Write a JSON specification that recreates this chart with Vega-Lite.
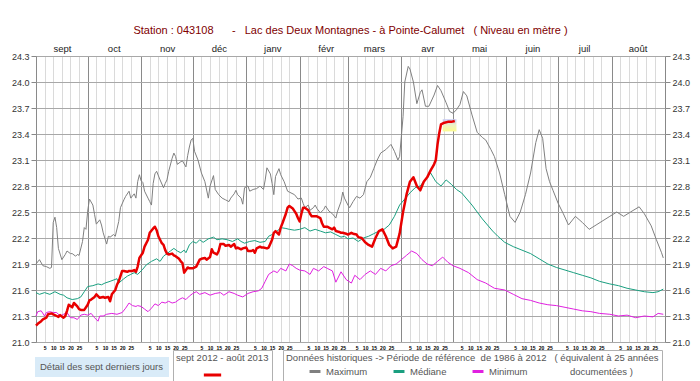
{
  "$schema": "https://vega.github.io/schema/vega-lite/v6.json",
  "width": 629,
  "height": 286,
  "autosize": {"type": "none"},
  "padding": {"left": 36, "top": 56, "right": 35, "bottom": 39},
  "background": "white",
  "title": {
    "text": "Station : 043108\u00a0\u00a0\u00a0\u00a0\u00a0\u00a0-\u00a0\u00a0\u00a0Lac des Deux Montagnes - à Pointe-Calumet\u00a0\u00a0\u00a0( Niveau en mètre )",
    "font": "Liberation Sans",
    "fontSize": 11,
    "fontWeight": "normal",
    "color": "#800000",
    "anchor": "middle",
    "offset": 7
  },
  "config": {
    "view": {"stroke": "#888888", "strokeWidth": 1},
    "axis": {"labelFont": "Liberation Sans", "title": null, "domain": false},
    "legend": {"labelFont": "Liberation Sans", "titleFont": "Liberation Sans"}
  },
  "datasets": {
    "cur": [
      {"d":"2012-09-01","v":21.19},{"d":"2012-09-02","v":21.21},{"d":"2012-09-04","v":21.24},{"d":"2012-09-05","v":21.26},
      {"d":"2012-09-07","v":21.28},{"d":"2012-09-08","v":21.32},{"d":"2012-09-10","v":21.33},{"d":"2012-09-11","v":21.32},
      {"d":"2012-09-13","v":21.30},{"d":"2012-09-14","v":21.29},{"d":"2012-09-15","v":21.31},{"d":"2012-09-17","v":21.28},
      {"d":"2012-09-18","v":21.30},{"d":"2012-09-19","v":21.36},{"d":"2012-09-20","v":21.43},{"d":"2012-09-22","v":21.40},
      {"d":"2012-09-23","v":21.45},{"d":"2012-09-25","v":21.41},{"d":"2012-09-26","v":21.38},{"d":"2012-09-27","v":21.37},
      {"d":"2012-09-29","v":21.37},{"d":"2012-10-01","v":21.43},{"d":"2012-10-02","v":21.48},{"d":"2012-10-03","v":21.49},
      {"d":"2012-10-05","v":21.52},{"d":"2012-10-06","v":21.55},{"d":"2012-10-07","v":21.53},{"d":"2012-10-08","v":21.51},
      {"d":"2012-10-10","v":21.52},{"d":"2012-10-11","v":21.51},{"d":"2012-10-13","v":21.52},{"d":"2012-10-14","v":21.47},
      {"d":"2012-10-15","v":21.55},{"d":"2012-10-17","v":21.60},{"d":"2012-10-18","v":21.66},{"d":"2012-10-19","v":21.70},
      {"d":"2012-10-21","v":21.82},{"d":"2012-10-22","v":21.82},{"d":"2012-10-24","v":21.81},{"d":"2012-10-25","v":21.82},
      {"d":"2012-10-27","v":21.82},{"d":"2012-10-28","v":21.83},{"d":"2012-10-29","v":21.81},{"d":"2012-10-30","v":21.87},
      {"d":"2012-10-31","v":21.97},{"d":"2012-11-02","v":22.03},{"d":"2012-11-03","v":22.10},{"d":"2012-11-05","v":22.18},
      {"d":"2012-11-06","v":22.26},{"d":"2012-11-08","v":22.31},{"d":"2012-11-09","v":22.33},{"d":"2012-11-10","v":22.29},
      {"d":"2012-11-11","v":22.22},{"d":"2012-11-12","v":22.18},{"d":"2012-11-13","v":22.14},{"d":"2012-11-14","v":22.12},
      {"d":"2012-11-15","v":22.06},{"d":"2012-11-16","v":22.02},{"d":"2012-11-17","v":22.01},{"d":"2012-11-19","v":22.02},
      {"d":"2012-11-20","v":22.00},{"d":"2012-11-21","v":21.99},{"d":"2012-11-23","v":21.96},{"d":"2012-11-24","v":21.93},
      {"d":"2012-11-25","v":21.91},{"d":"2012-11-26","v":21.80},{"d":"2012-11-28","v":21.86},{"d":"2012-11-29","v":21.85},
      {"d":"2012-12-01","v":21.85},{"d":"2012-12-03","v":21.87},{"d":"2012-12-05","v":21.95},{"d":"2012-12-06","v":21.96},
      {"d":"2012-12-08","v":21.97},{"d":"2012-12-09","v":21.95},{"d":"2012-12-11","v":21.98},{"d":"2012-12-12","v":22.07},
      {"d":"2012-12-13","v":22.03},{"d":"2012-12-15","v":22.01},{"d":"2012-12-16","v":22.05},{"d":"2012-12-17","v":22.13},
      {"d":"2012-12-19","v":22.13},{"d":"2012-12-20","v":22.11},{"d":"2012-12-22","v":22.12},{"d":"2012-12-23","v":22.10},
      {"d":"2012-12-25","v":22.13},{"d":"2012-12-26","v":22.08},{"d":"2012-12-27","v":22.09},{"d":"2012-12-29","v":22.07},
      {"d":"2012-12-30","v":22.08},{"d":"2013-01-01","v":22.09},{"d":"2013-01-02","v":22.05},{"d":"2013-01-04","v":22.05},
      {"d":"2013-01-05","v":22.06},{"d":"2013-01-06","v":22.03},{"d":"2013-01-07","v":22.08},{"d":"2013-01-09","v":22.10},
      {"d":"2013-01-10","v":22.09},{"d":"2013-01-11","v":22.09},{"d":"2013-01-13","v":22.08},{"d":"2013-01-14","v":22.09},
      {"d":"2013-01-16","v":22.18},{"d":"2013-01-17","v":22.26},{"d":"2013-01-18","v":22.28},{"d":"2013-01-20","v":22.24},
      {"d":"2013-01-21","v":22.32},{"d":"2013-01-22","v":22.37},{"d":"2013-01-24","v":22.48},{"d":"2013-01-25","v":22.55},
      {"d":"2013-01-26","v":22.57},{"d":"2013-01-28","v":22.54},{"d":"2013-01-29","v":22.51},{"d":"2013-01-30","v":22.48},
      {"d":"2013-01-31","v":22.43},{"d":"2013-02-01","v":22.39},{"d":"2013-02-02","v":22.48},{"d":"2013-02-03","v":22.55},
      {"d":"2013-02-04","v":22.55},{"d":"2013-02-06","v":22.52},{"d":"2013-02-07","v":22.48},{"d":"2013-02-08","v":22.45},
      {"d":"2013-02-11","v":22.45},{"d":"2013-02-13","v":22.43},{"d":"2013-02-14","v":22.37},{"d":"2013-02-15","v":22.33},
      {"d":"2013-02-17","v":22.33},{"d":"2013-02-18","v":22.32},{"d":"2013-02-20","v":22.30},{"d":"2013-02-21","v":22.32},
      {"d":"2013-02-22","v":22.28},{"d":"2013-02-24","v":22.27},{"d":"2013-02-25","v":22.26},{"d":"2013-02-26","v":22.26},
      {"d":"2013-02-28","v":22.25},{"d":"2013-03-01","v":22.24},{"d":"2013-03-03","v":22.26},{"d":"2013-03-04","v":22.25},
      {"d":"2013-03-06","v":22.24},{"d":"2013-03-07","v":22.21},{"d":"2013-03-09","v":22.20},{"d":"2013-03-11","v":22.15},
      {"d":"2013-03-13","v":22.12},{"d":"2013-03-15","v":22.10},{"d":"2013-03-17","v":22.20},{"d":"2013-03-19","v":22.28},
      {"d":"2013-03-21","v":22.30},{"d":"2013-03-23","v":22.22},{"d":"2013-03-25","v":22.12},{"d":"2013-03-27","v":22.08},
      {"d":"2013-03-29","v":22.10},{"d":"2013-03-31","v":22.25},{"d":"2013-04-02","v":22.50},{"d":"2013-04-04","v":22.70},
      {"d":"2013-04-06","v":22.85},{"d":"2013-04-08","v":22.90},{"d":"2013-04-10","v":22.80},{"d":"2013-04-12","v":22.75},
      {"d":"2013-04-14","v":22.85},{"d":"2013-04-16","v":22.90},{"d":"2013-04-18","v":22.98},{"d":"2013-04-20","v":23.05},
      {"d":"2013-04-21","v":23.10},{"d":"2013-04-22","v":23.28},{"d":"2013-04-23","v":23.41},{"d":"2013-04-24","v":23.51},
      {"d":"2013-04-26","v":23.53},{"d":"2013-04-28","v":23.54},{"d":"2013-04-30","v":23.54},{"d":"2013-05-02","v":23.55}
    ],
    "hist": [
      {"s":"Maximum","d":"2012-09-01","v":21.90},{"s":"Maximum","d":"2012-09-03","v":21.95},{"s":"Maximum","d":"2012-09-05","v":21.88},
      {"s":"Maximum","d":"2012-09-07","v":21.87},{"s":"Maximum","d":"2012-09-09","v":21.85},{"s":"Maximum","d":"2012-09-10","v":21.86},
      {"s":"Maximum","d":"2012-09-11","v":22.38},{"s":"Maximum","d":"2012-09-12","v":22.44},{"s":"Maximum","d":"2012-09-13","v":22.32},
      {"s":"Maximum","d":"2012-09-14","v":22.08},{"s":"Maximum","d":"2012-09-16","v":21.95},{"s":"Maximum","d":"2012-09-18","v":22.01},
      {"s":"Maximum","d":"2012-09-19","v":22.05},{"s":"Maximum","d":"2012-09-21","v":22.02},{"s":"Maximum","d":"2012-09-22","v":22.02},
      {"s":"Maximum","d":"2012-09-24","v":21.99},{"s":"Maximum","d":"2012-09-25","v":22.01},{"s":"Maximum","d":"2012-09-26","v":22.00},
      {"s":"Maximum","d":"2012-09-28","v":22.16},{"s":"Maximum","d":"2012-09-29","v":22.32},{"s":"Maximum","d":"2012-09-30","v":22.30},
      {"s":"Maximum","d":"2012-10-01","v":22.51},{"s":"Maximum","d":"2012-10-02","v":22.65},{"s":"Maximum","d":"2012-10-04","v":22.58},
      {"s":"Maximum","d":"2012-10-05","v":22.47},{"s":"Maximum","d":"2012-10-06","v":22.36},{"s":"Maximum","d":"2012-10-08","v":22.41},
      {"s":"Maximum","d":"2012-10-09","v":22.35},{"s":"Maximum","d":"2012-10-10","v":22.26},{"s":"Maximum","d":"2012-10-12","v":22.13},
      {"s":"Maximum","d":"2012-10-13","v":22.22},{"s":"Maximum","d":"2012-10-14","v":22.21},{"s":"Maximum","d":"2012-10-16","v":22.24},
      {"s":"Maximum","d":"2012-10-17","v":22.22},{"s":"Maximum","d":"2012-10-19","v":22.39},{"s":"Maximum","d":"2012-10-20","v":22.55},
      {"s":"Maximum","d":"2012-10-22","v":22.64},{"s":"Maximum","d":"2012-10-23","v":22.68},{"s":"Maximum","d":"2012-10-25","v":22.74},
      {"s":"Maximum","d":"2012-10-26","v":22.66},{"s":"Maximum","d":"2012-10-28","v":22.71},{"s":"Maximum","d":"2012-10-29","v":22.66},
      {"s":"Maximum","d":"2012-10-30","v":22.85},{"s":"Maximum","d":"2012-10-31","v":22.93},{"s":"Maximum","d":"2012-11-01","v":22.86},
      {"s":"Maximum","d":"2012-11-02","v":22.84},{"s":"Maximum","d":"2012-11-03","v":22.74},{"s":"Maximum","d":"2012-11-05","v":22.66},
      {"s":"Maximum","d":"2012-11-06","v":22.62},{"s":"Maximum","d":"2012-11-07","v":22.58},{"s":"Maximum","d":"2012-11-08","v":22.83},
      {"s":"Maximum","d":"2012-11-09","v":22.94},{"s":"Maximum","d":"2012-11-10","v":22.97},{"s":"Maximum","d":"2012-11-12","v":22.87},
      {"s":"Maximum","d":"2012-11-14","v":22.78},{"s":"Maximum","d":"2012-11-15","v":22.83},{"s":"Maximum","d":"2012-11-16","v":22.87},
      {"s":"Maximum","d":"2012-11-17","v":22.97},{"s":"Maximum","d":"2012-11-19","v":23.12},{"s":"Maximum","d":"2012-11-20","v":23.18},
      {"s":"Maximum","d":"2012-11-21","v":23.14},{"s":"Maximum","d":"2012-11-22","v":23.05},{"s":"Maximum","d":"2012-11-24","v":23.08},
      {"s":"Maximum","d":"2012-11-25","v":23.09},{"s":"Maximum","d":"2012-11-27","v":23.02},{"s":"Maximum","d":"2012-11-28","v":23.15},
      {"s":"Maximum","d":"2012-11-29","v":23.25},{"s":"Maximum","d":"2012-11-30","v":23.33},{"s":"Maximum","d":"2012-12-01","v":23.35},
      {"s":"Maximum","d":"2012-12-02","v":23.20},{"s":"Maximum","d":"2012-12-04","v":23.10},{"s":"Maximum","d":"2012-12-06","v":22.95},
      {"s":"Maximum","d":"2012-12-08","v":22.85},{"s":"Maximum","d":"2012-12-10","v":22.66},{"s":"Maximum","d":"2012-12-11","v":22.80},
      {"s":"Maximum","d":"2012-12-13","v":22.92},{"s":"Maximum","d":"2012-12-14","v":22.76},{"s":"Maximum","d":"2012-12-16","v":22.70},
      {"s":"Maximum","d":"2012-12-18","v":22.66},{"s":"Maximum","d":"2012-12-20","v":22.64},{"s":"Maximum","d":"2012-12-22","v":22.62},
      {"s":"Maximum","d":"2012-12-23","v":22.66},{"s":"Maximum","d":"2012-12-25","v":22.71},{"s":"Maximum","d":"2012-12-26","v":22.75},
      {"s":"Maximum","d":"2012-12-27","v":22.70},{"s":"Maximum","d":"2012-12-29","v":22.66},{"s":"Maximum","d":"2012-12-30","v":22.59},
      {"s":"Maximum","d":"2012-12-31","v":22.78},{"s":"Maximum","d":"2013-01-02","v":22.80},{"s":"Maximum","d":"2013-01-03","v":22.74},
      {"s":"Maximum","d":"2013-01-05","v":22.76},{"s":"Maximum","d":"2013-01-07","v":22.77},{"s":"Maximum","d":"2013-01-09","v":22.80},
      {"s":"Maximum","d":"2013-01-11","v":22.76},{"s":"Maximum","d":"2013-01-12","v":22.87},{"s":"Maximum","d":"2013-01-13","v":23.01},
      {"s":"Maximum","d":"2013-01-15","v":22.94},{"s":"Maximum","d":"2013-01-16","v":22.83},{"s":"Maximum","d":"2013-01-17","v":22.70},
      {"s":"Maximum","d":"2013-01-18","v":22.91},{"s":"Maximum","d":"2013-01-20","v":23.00},{"s":"Maximum","d":"2013-01-21","v":22.93},
      {"s":"Maximum","d":"2013-01-23","v":22.85},{"s":"Maximum","d":"2013-01-25","v":22.74},{"s":"Maximum","d":"2013-01-26","v":22.73},
      {"s":"Maximum","d":"2013-01-29","v":22.70},{"s":"Maximum","d":"2013-01-31","v":22.65},{"s":"Maximum","d":"2013-02-02","v":22.66},
      {"s":"Maximum","d":"2013-02-03","v":22.60},{"s":"Maximum","d":"2013-02-04","v":22.55},{"s":"Maximum","d":"2013-02-06","v":22.58},
      {"s":"Maximum","d":"2013-02-07","v":22.52},{"s":"Maximum","d":"2013-02-09","v":22.55},{"s":"Maximum","d":"2013-02-10","v":22.58},
      {"s":"Maximum","d":"2013-02-11","v":22.54},{"s":"Maximum","d":"2013-02-13","v":22.49},{"s":"Maximum","d":"2013-02-15","v":22.53},
      {"s":"Maximum","d":"2013-02-16","v":22.57},{"s":"Maximum","d":"2013-02-18","v":22.51},{"s":"Maximum","d":"2013-02-20","v":22.48},
      {"s":"Maximum","d":"2013-02-22","v":22.43},{"s":"Maximum","d":"2013-02-23","v":22.51},{"s":"Maximum","d":"2013-02-25","v":22.62},
      {"s":"Maximum","d":"2013-02-26","v":22.73},{"s":"Maximum","d":"2013-02-27","v":22.66},{"s":"Maximum","d":"2013-03-01","v":22.58},
      {"s":"Maximum","d":"2013-03-02","v":22.55},{"s":"Maximum","d":"2013-03-04","v":22.62},{"s":"Maximum","d":"2013-03-06","v":22.68},
      {"s":"Maximum","d":"2013-03-08","v":22.66},{"s":"Maximum","d":"2013-03-10","v":22.70},{"s":"Maximum","d":"2013-03-12","v":22.85},
      {"s":"Maximum","d":"2013-03-14","v":22.90},{"s":"Maximum","d":"2013-03-16","v":23.00},{"s":"Maximum","d":"2013-03-18","v":23.10},
      {"s":"Maximum","d":"2013-03-20","v":23.18},{"s":"Maximum","d":"2013-03-23","v":23.22},{"s":"Maximum","d":"2013-03-26","v":23.28},
      {"s":"Maximum","d":"2013-03-28","v":23.20},{"s":"Maximum","d":"2013-03-30","v":23.10},{"s":"Maximum","d":"2013-03-31","v":23.14},
      {"s":"Maximum","d":"2013-04-02","v":23.60},{"s":"Maximum","d":"2013-04-03","v":24.00},{"s":"Maximum","d":"2013-04-05","v":24.18},
      {"s":"Maximum","d":"2013-04-06","v":24.15},{"s":"Maximum","d":"2013-04-08","v":24.00},{"s":"Maximum","d":"2013-04-10","v":23.75},
      {"s":"Maximum","d":"2013-04-12","v":23.88},{"s":"Maximum","d":"2013-04-13","v":23.91},{"s":"Maximum","d":"2013-04-15","v":23.72},
      {"s":"Maximum","d":"2013-04-17","v":23.72},{"s":"Maximum","d":"2013-04-20","v":23.85},{"s":"Maximum","d":"2013-04-22","v":23.96},
      {"s":"Maximum","d":"2013-04-24","v":23.90},{"s":"Maximum","d":"2013-04-27","v":23.76},{"s":"Maximum","d":"2013-04-29","v":23.66},
      {"s":"Maximum","d":"2013-05-01","v":23.64},{"s":"Maximum","d":"2013-05-03","v":23.68},{"s":"Maximum","d":"2013-05-05","v":23.74},
      {"s":"Maximum","d":"2013-05-07","v":23.89},{"s":"Maximum","d":"2013-05-09","v":23.84},{"s":"Maximum","d":"2013-05-12","v":23.62},
      {"s":"Maximum","d":"2013-05-15","v":23.42},{"s":"Maximum","d":"2013-05-18","v":23.36},{"s":"Maximum","d":"2013-05-20","v":23.33},
      {"s":"Maximum","d":"2013-05-23","v":23.22},{"s":"Maximum","d":"2013-05-25","v":23.14},{"s":"Maximum","d":"2013-05-28","v":22.95},
      {"s":"Maximum","d":"2013-05-31","v":22.70},{"s":"Maximum","d":"2013-06-03","v":22.45},{"s":"Maximum","d":"2013-06-06","v":22.38},
      {"s":"Maximum","d":"2013-06-09","v":22.50},{"s":"Maximum","d":"2013-06-12","v":22.70},{"s":"Maximum","d":"2013-06-15","v":22.95},
      {"s":"Maximum","d":"2013-06-18","v":23.30},{"s":"Maximum","d":"2013-06-20","v":23.45},{"s":"Maximum","d":"2013-06-22","v":23.35},
      {"s":"Maximum","d":"2013-06-24","v":23.00},{"s":"Maximum","d":"2013-06-26","v":22.85},{"s":"Maximum","d":"2013-06-28","v":22.75},
      {"s":"Maximum","d":"2013-07-01","v":22.60},{"s":"Maximum","d":"2013-07-04","v":22.48},{"s":"Maximum","d":"2013-07-07","v":22.35},
      {"s":"Maximum","d":"2013-07-11","v":22.45},{"s":"Maximum","d":"2013-07-15","v":22.38},{"s":"Maximum","d":"2013-07-19","v":22.30},
      {"s":"Maximum","d":"2013-07-23","v":22.35},{"s":"Maximum","d":"2013-07-27","v":22.40},{"s":"Maximum","d":"2013-07-31","v":22.45},
      {"s":"Maximum","d":"2013-08-04","v":22.50},{"s":"Maximum","d":"2013-08-08","v":22.45},{"s":"Maximum","d":"2013-08-12","v":22.50},
      {"s":"Maximum","d":"2013-08-17","v":22.56},{"s":"Maximum","d":"2013-08-20","v":22.48},{"s":"Maximum","d":"2013-08-24","v":22.34},
      {"s":"Maximum","d":"2013-08-27","v":22.18},{"s":"Maximum","d":"2013-08-30","v":22.03},{"s":"Maximum","d":"2013-08-31","v":21.97},

      {"s":"Médiane","d":"2012-09-01","v":21.57},{"s":"Médiane","d":"2012-09-03","v":21.55},{"s":"Médiane","d":"2012-09-06","v":21.57},
      {"s":"Médiane","d":"2012-09-09","v":21.55},{"s":"Médiane","d":"2012-09-12","v":21.58},{"s":"Médiane","d":"2012-09-15","v":21.55},
      {"s":"Médiane","d":"2012-09-17","v":21.54},{"s":"Médiane","d":"2012-09-19","v":21.51},{"s":"Médiane","d":"2012-09-22","v":21.49},
      {"s":"Médiane","d":"2012-09-25","v":21.50},{"s":"Médiane","d":"2012-09-27","v":21.52},{"s":"Médiane","d":"2012-09-29","v":21.58},
      {"s":"Médiane","d":"2012-10-01","v":21.64},{"s":"Médiane","d":"2012-10-04","v":21.65},{"s":"Médiane","d":"2012-10-07","v":21.67},
      {"s":"Médiane","d":"2012-10-09","v":21.66},{"s":"Médiane","d":"2012-10-11","v":21.68},{"s":"Médiane","d":"2012-10-14","v":21.70},
      {"s":"Médiane","d":"2012-10-18","v":21.73},{"s":"Médiane","d":"2012-10-19","v":21.68},{"s":"Médiane","d":"2012-10-22","v":21.73},
      {"s":"Médiane","d":"2012-10-24","v":21.76},{"s":"Médiane","d":"2012-10-26","v":21.78},{"s":"Médiane","d":"2012-10-28","v":21.80},
      {"s":"Médiane","d":"2012-10-30","v":21.78},{"s":"Médiane","d":"2012-11-01","v":21.82},{"s":"Médiane","d":"2012-11-02","v":21.84},
      {"s":"Médiane","d":"2012-11-04","v":21.89},{"s":"Médiane","d":"2012-11-07","v":21.93},{"s":"Médiane","d":"2012-11-10","v":21.96},
      {"s":"Médiane","d":"2012-11-12","v":21.93},{"s":"Médiane","d":"2012-11-14","v":21.99},{"s":"Médiane","d":"2012-11-16","v":22.02},
      {"s":"Médiane","d":"2012-11-18","v":22.05},{"s":"Médiane","d":"2012-11-20","v":22.08},{"s":"Médiane","d":"2012-11-22","v":22.05},
      {"s":"Médiane","d":"2012-11-24","v":22.03},{"s":"Médiane","d":"2012-11-26","v":22.06},{"s":"Médiane","d":"2012-11-27","v":22.03},
      {"s":"Médiane","d":"2012-11-29","v":22.12},{"s":"Médiane","d":"2012-12-01","v":22.16},{"s":"Médiane","d":"2012-12-03","v":22.14},
      {"s":"Médiane","d":"2012-12-05","v":22.18},{"s":"Médiane","d":"2012-12-07","v":22.15},{"s":"Médiane","d":"2012-12-10","v":22.19},
      {"s":"Médiane","d":"2012-12-13","v":22.21},{"s":"Médiane","d":"2012-12-15","v":22.18},{"s":"Médiane","d":"2012-12-18","v":22.19},
      {"s":"Médiane","d":"2012-12-21","v":22.18},{"s":"Médiane","d":"2012-12-24","v":22.16},{"s":"Médiane","d":"2012-12-27","v":22.19},
      {"s":"Médiane","d":"2012-12-29","v":22.16},{"s":"Médiane","d":"2012-12-31","v":22.14},{"s":"Médiane","d":"2013-01-03","v":22.16},
      {"s":"Médiane","d":"2013-01-06","v":22.17},{"s":"Médiane","d":"2013-01-09","v":22.15},{"s":"Médiane","d":"2013-01-12","v":22.16},
      {"s":"Médiane","d":"2013-01-14","v":22.22},{"s":"Médiane","d":"2013-01-16","v":22.24},{"s":"Médiane","d":"2013-01-19","v":22.28},
      {"s":"Médiane","d":"2013-01-21","v":22.32},{"s":"Médiane","d":"2013-01-24","v":22.31},{"s":"Médiane","d":"2013-01-26","v":22.30},
      {"s":"Médiane","d":"2013-01-29","v":22.29},{"s":"Médiane","d":"2013-02-01","v":22.30},{"s":"Médiane","d":"2013-02-04","v":22.32},
      {"s":"Médiane","d":"2013-02-07","v":22.28},{"s":"Médiane","d":"2013-02-10","v":22.30},{"s":"Médiane","d":"2013-02-13","v":22.28},
      {"s":"Médiane","d":"2013-02-16","v":22.26},{"s":"Médiane","d":"2013-02-19","v":22.27},{"s":"Médiane","d":"2013-02-22","v":22.24},
      {"s":"Médiane","d":"2013-02-25","v":22.21},{"s":"Médiane","d":"2013-02-27","v":22.22},{"s":"Médiane","d":"2013-03-01","v":22.19},
      {"s":"Médiane","d":"2013-03-04","v":22.20},{"s":"Médiane","d":"2013-03-07","v":22.16},{"s":"Médiane","d":"2013-03-10","v":22.20},
      {"s":"Médiane","d":"2013-03-13","v":22.22},{"s":"Médiane","d":"2013-03-16","v":22.25},{"s":"Médiane","d":"2013-03-19","v":22.28},
      {"s":"Médiane","d":"2013-03-22","v":22.30},{"s":"Médiane","d":"2013-03-25","v":22.35},{"s":"Médiane","d":"2013-03-28","v":22.45},
      {"s":"Médiane","d":"2013-03-31","v":22.58},{"s":"Médiane","d":"2013-04-03","v":22.65},{"s":"Médiane","d":"2013-04-06","v":22.72},
      {"s":"Médiane","d":"2013-04-09","v":22.78},{"s":"Médiane","d":"2013-04-12","v":22.80},{"s":"Médiane","d":"2013-04-15","v":22.88},
      {"s":"Médiane","d":"2013-04-18","v":22.95},{"s":"Médiane","d":"2013-04-21","v":22.85},{"s":"Médiane","d":"2013-04-24","v":22.80},
      {"s":"Médiane","d":"2013-04-27","v":22.87},{"s":"Médiane","d":"2013-04-30","v":22.82},{"s":"Médiane","d":"2013-05-03","v":22.76},
      {"s":"Médiane","d":"2013-05-06","v":22.72},{"s":"Médiane","d":"2013-05-09","v":22.65},{"s":"Médiane","d":"2013-05-12","v":22.58},
      {"s":"Médiane","d":"2013-05-15","v":22.50},{"s":"Médiane","d":"2013-05-18","v":22.42},{"s":"Médiane","d":"2013-05-21","v":22.35},
      {"s":"Médiane","d":"2013-05-24","v":22.28},{"s":"Médiane","d":"2013-05-27","v":22.22},{"s":"Médiane","d":"2013-05-31","v":22.15},
      {"s":"Médiane","d":"2013-06-05","v":22.10},{"s":"Médiane","d":"2013-06-10","v":22.06},{"s":"Médiane","d":"2013-06-15","v":22.02},
      {"s":"Médiane","d":"2013-06-20","v":21.96},{"s":"Médiane","d":"2013-06-25","v":21.90},{"s":"Médiane","d":"2013-06-30","v":21.86},
      {"s":"Médiane","d":"2013-07-05","v":21.83},{"s":"Médiane","d":"2013-07-10","v":21.80},{"s":"Médiane","d":"2013-07-15","v":21.77},
      {"s":"Médiane","d":"2013-07-20","v":21.74},{"s":"Médiane","d":"2013-07-25","v":21.70},{"s":"Médiane","d":"2013-07-31","v":21.67},
      {"s":"Médiane","d":"2013-08-05","v":21.65},{"s":"Médiane","d":"2013-08-10","v":21.62},{"s":"Médiane","d":"2013-08-15","v":21.60},
      {"s":"Médiane","d":"2013-08-20","v":21.58},{"s":"Médiane","d":"2013-08-25","v":21.57},{"s":"Médiane","d":"2013-08-28","v":21.58},
      {"s":"Médiane","d":"2013-08-31","v":21.61},

      {"s":"Minimum","d":"2012-09-01","v":21.30},{"s":"Minimum","d":"2012-09-02","v":21.35},{"s":"Minimum","d":"2012-09-04","v":21.36},
      {"s":"Minimum","d":"2012-09-06","v":21.30},{"s":"Minimum","d":"2012-09-07","v":21.34},{"s":"Minimum","d":"2012-09-09","v":21.35},
      {"s":"Minimum","d":"2012-09-11","v":21.34},{"s":"Minimum","d":"2012-09-13","v":21.34},{"s":"Minimum","d":"2012-09-15","v":21.30},
      {"s":"Minimum","d":"2012-09-17","v":21.32},{"s":"Minimum","d":"2012-09-19","v":21.34},{"s":"Minimum","d":"2012-09-21","v":21.28},
      {"s":"Minimum","d":"2012-09-23","v":21.28},{"s":"Minimum","d":"2012-09-25","v":21.26},{"s":"Minimum","d":"2012-09-27","v":21.31},
      {"s":"Minimum","d":"2012-09-29","v":21.32},{"s":"Minimum","d":"2012-10-01","v":21.31},{"s":"Minimum","d":"2012-10-03","v":21.33},
      {"s":"Minimum","d":"2012-10-05","v":21.28},{"s":"Minimum","d":"2012-10-07","v":21.24},{"s":"Minimum","d":"2012-10-08","v":21.30},
      {"s":"Minimum","d":"2012-10-10","v":21.30},{"s":"Minimum","d":"2012-10-12","v":21.32},{"s":"Minimum","d":"2012-10-15","v":21.33},
      {"s":"Minimum","d":"2012-10-18","v":21.32},{"s":"Minimum","d":"2012-10-21","v":21.34},{"s":"Minimum","d":"2012-10-23","v":21.39},
      {"s":"Minimum","d":"2012-10-25","v":21.45},{"s":"Minimum","d":"2012-10-27","v":21.42},{"s":"Minimum","d":"2012-10-29","v":21.41},
      {"s":"Minimum","d":"2012-10-30","v":21.42},{"s":"Minimum","d":"2012-11-01","v":21.41},{"s":"Minimum","d":"2012-11-03","v":21.38},
      {"s":"Minimum","d":"2012-11-05","v":21.35},{"s":"Minimum","d":"2012-11-07","v":21.39},{"s":"Minimum","d":"2012-11-09","v":21.44},
      {"s":"Minimum","d":"2012-11-11","v":21.42},{"s":"Minimum","d":"2012-11-13","v":21.46},{"s":"Minimum","d":"2012-11-15","v":21.45},
      {"s":"Minimum","d":"2012-11-17","v":21.47},{"s":"Minimum","d":"2012-11-19","v":21.45},{"s":"Minimum","d":"2012-11-21","v":21.46},
      {"s":"Minimum","d":"2012-11-23","v":21.49},{"s":"Minimum","d":"2012-11-25","v":21.51},{"s":"Minimum","d":"2012-11-27","v":21.49},
      {"s":"Minimum","d":"2012-11-29","v":21.53},{"s":"Minimum","d":"2012-12-01","v":21.56},{"s":"Minimum","d":"2012-12-03","v":21.58},
      {"s":"Minimum","d":"2012-12-05","v":21.55},{"s":"Minimum","d":"2012-12-08","v":21.57},{"s":"Minimum","d":"2012-12-11","v":21.54},
      {"s":"Minimum","d":"2012-12-14","v":21.56},{"s":"Minimum","d":"2012-12-17","v":21.57},{"s":"Minimum","d":"2012-12-19","v":21.54},
      {"s":"Minimum","d":"2012-12-22","v":21.58},{"s":"Minimum","d":"2012-12-25","v":21.56},{"s":"Minimum","d":"2012-12-27","v":21.54},
      {"s":"Minimum","d":"2012-12-30","v":21.52},{"s":"Minimum","d":"2013-01-02","v":21.56},{"s":"Minimum","d":"2013-01-05","v":21.58},
      {"s":"Minimum","d":"2013-01-08","v":21.59},{"s":"Minimum","d":"2013-01-10","v":21.62},{"s":"Minimum","d":"2013-01-12","v":21.70},
      {"s":"Minimum","d":"2013-01-14","v":21.78},{"s":"Minimum","d":"2013-01-17","v":21.82},{"s":"Minimum","d":"2013-01-19","v":21.80},
      {"s":"Minimum","d":"2013-01-21","v":21.85},{"s":"Minimum","d":"2013-01-24","v":21.82},{"s":"Minimum","d":"2013-01-26","v":21.90},
      {"s":"Minimum","d":"2013-01-28","v":21.88},{"s":"Minimum","d":"2013-01-30","v":21.85},{"s":"Minimum","d":"2013-02-01","v":21.83},
      {"s":"Minimum","d":"2013-02-04","v":21.82},{"s":"Minimum","d":"2013-02-07","v":21.78},{"s":"Minimum","d":"2013-02-09","v":21.85},
      {"s":"Minimum","d":"2013-02-12","v":21.82},{"s":"Minimum","d":"2013-02-15","v":21.87},{"s":"Minimum","d":"2013-02-17","v":21.85},
      {"s":"Minimum","d":"2013-02-20","v":21.82},{"s":"Minimum","d":"2013-02-22","v":21.69},{"s":"Minimum","d":"2013-02-25","v":21.81},
      {"s":"Minimum","d":"2013-02-28","v":21.72},{"s":"Minimum","d":"2013-03-03","v":21.68},{"s":"Minimum","d":"2013-03-05","v":21.77},
      {"s":"Minimum","d":"2013-03-08","v":21.72},{"s":"Minimum","d":"2013-03-11","v":21.78},{"s":"Minimum","d":"2013-03-14","v":21.82},
      {"s":"Minimum","d":"2013-03-17","v":21.78},{"s":"Minimum","d":"2013-03-20","v":21.85},{"s":"Minimum","d":"2013-03-23","v":21.82},
      {"s":"Minimum","d":"2013-03-26","v":21.88},{"s":"Minimum","d":"2013-03-29","v":21.90},{"s":"Minimum","d":"2013-04-01","v":21.95},
      {"s":"Minimum","d":"2013-04-04","v":22.00},{"s":"Minimum","d":"2013-04-07","v":22.05},{"s":"Minimum","d":"2013-04-10","v":22.02},
      {"s":"Minimum","d":"2013-04-13","v":21.95},{"s":"Minimum","d":"2013-04-16","v":21.90},{"s":"Minimum","d":"2013-04-19","v":21.88},
      {"s":"Minimum","d":"2013-04-22","v":21.93},{"s":"Minimum","d":"2013-04-25","v":21.98},{"s":"Minimum","d":"2013-04-28","v":21.92},
      {"s":"Minimum","d":"2013-05-01","v":21.88},{"s":"Minimum","d":"2013-05-05","v":21.85},{"s":"Minimum","d":"2013-05-10","v":21.80},
      {"s":"Minimum","d":"2013-05-15","v":21.72},{"s":"Minimum","d":"2013-05-20","v":21.68},{"s":"Minimum","d":"2013-05-25","v":21.62},
      {"s":"Minimum","d":"2013-05-31","v":21.60},{"s":"Minimum","d":"2013-06-05","v":21.55},{"s":"Minimum","d":"2013-06-10","v":21.50},
      {"s":"Minimum","d":"2013-06-15","v":21.48},{"s":"Minimum","d":"2013-06-20","v":21.45},{"s":"Minimum","d":"2013-06-25","v":21.43},
      {"s":"Minimum","d":"2013-06-30","v":21.42},{"s":"Minimum","d":"2013-07-05","v":21.40},{"s":"Minimum","d":"2013-07-10","v":21.38},
      {"s":"Minimum","d":"2013-07-15","v":21.36},{"s":"Minimum","d":"2013-07-20","v":21.35},{"s":"Minimum","d":"2013-07-25","v":21.33},
      {"s":"Minimum","d":"2013-07-31","v":21.32},{"s":"Minimum","d":"2013-08-05","v":21.30},{"s":"Minimum","d":"2013-08-10","v":21.31},
      {"s":"Minimum","d":"2013-08-15","v":21.28},{"s":"Minimum","d":"2013-08-20","v":21.30},{"s":"Minimum","d":"2013-08-25","v":21.29},
      {"s":"Minimum","d":"2013-08-28","v":21.33},{"s":"Minimum","d":"2013-08-31","v":21.32}
    ],
    "box": [{"d":"2013-04-25","d2":"2013-05-03","v":23.43,"v2":23.57}]
  },
  "layer": [
    {
      "data": {"name": "hist"},
      "mark": {"type": "line", "strokeWidth": 1, "interpolate": "linear"},
      "encoding": {
        "x": {
          "field": "d", "type": "temporal",
          "scale": {"type": "utc", "domain": [{"year":2012,"month":9,"date":1,"utc":true},{"year":2013,"month":9,"date":1,"utc":true}]},
          "axis": {
            "orient": "bottom",
            "values": [
              {"year":2012,"month":9,"date":6,"utc":true},{"year":2012,"month":9,"date":11,"utc":true},{"year":2012,"month":9,"date":16,"utc":true},{"year":2012,"month":9,"date":21,"utc":true},{"year":2012,"month":9,"date":26,"utc":true},
              {"year":2012,"month":10,"date":6,"utc":true},{"year":2012,"month":10,"date":11,"utc":true},{"year":2012,"month":10,"date":16,"utc":true},{"year":2012,"month":10,"date":21,"utc":true},{"year":2012,"month":10,"date":26,"utc":true},
              {"year":2012,"month":11,"date":6,"utc":true},{"year":2012,"month":11,"date":11,"utc":true},{"year":2012,"month":11,"date":16,"utc":true},{"year":2012,"month":11,"date":21,"utc":true},{"year":2012,"month":11,"date":26,"utc":true},
              {"year":2012,"month":12,"date":6,"utc":true},{"year":2012,"month":12,"date":11,"utc":true},{"year":2012,"month":12,"date":16,"utc":true},{"year":2012,"month":12,"date":21,"utc":true},{"year":2012,"month":12,"date":26,"utc":true},
              {"year":2013,"month":1,"date":6,"utc":true},{"year":2013,"month":1,"date":11,"utc":true},{"year":2013,"month":1,"date":16,"utc":true},{"year":2013,"month":1,"date":21,"utc":true},{"year":2013,"month":1,"date":26,"utc":true},
              {"year":2013,"month":2,"date":6,"utc":true},{"year":2013,"month":2,"date":11,"utc":true},{"year":2013,"month":2,"date":16,"utc":true},{"year":2013,"month":2,"date":21,"utc":true},{"year":2013,"month":2,"date":26,"utc":true},
              {"year":2013,"month":3,"date":6,"utc":true},{"year":2013,"month":3,"date":11,"utc":true},{"year":2013,"month":3,"date":16,"utc":true},{"year":2013,"month":3,"date":21,"utc":true},{"year":2013,"month":3,"date":26,"utc":true},
              {"year":2013,"month":4,"date":6,"utc":true},{"year":2013,"month":4,"date":11,"utc":true},{"year":2013,"month":4,"date":16,"utc":true},{"year":2013,"month":4,"date":21,"utc":true},{"year":2013,"month":4,"date":26,"utc":true},
              {"year":2013,"month":5,"date":6,"utc":true},{"year":2013,"month":5,"date":11,"utc":true},{"year":2013,"month":5,"date":16,"utc":true},{"year":2013,"month":5,"date":21,"utc":true},{"year":2013,"month":5,"date":26,"utc":true},
              {"year":2013,"month":6,"date":6,"utc":true},{"year":2013,"month":6,"date":11,"utc":true},{"year":2013,"month":6,"date":16,"utc":true},{"year":2013,"month":6,"date":21,"utc":true},{"year":2013,"month":6,"date":26,"utc":true},
              {"year":2013,"month":7,"date":6,"utc":true},{"year":2013,"month":7,"date":11,"utc":true},{"year":2013,"month":7,"date":16,"utc":true},{"year":2013,"month":7,"date":21,"utc":true},{"year":2013,"month":7,"date":26,"utc":true},
              {"year":2013,"month":8,"date":6,"utc":true},{"year":2013,"month":8,"date":11,"utc":true},{"year":2013,"month":8,"date":16,"utc":true},{"year":2013,"month":8,"date":21,"utc":true},{"year":2013,"month":8,"date":26,"utc":true}
            ],
            "labelExpr": "'' + (utcdate(datum.value) - 1)",
            "grid": true, "gridColor": "#dadada", "gridWidth": 1,
            "ticks": false, "labelFontSize": 5, "labelFont": "Liberation Sans", "labelFontWeight": "bold",
            "labelColor": "#000000", "labelPadding": 3, "labelFlush": false, "labelOverlap": false, "labelBound": false
          }
        },
        "y": {
          "field": "v", "type": "quantitative",
          "scale": {"domain": [21.0, 24.3], "nice": false, "zero": false},
          "axis": {
            "orient": "left",
            "values": [21.0, 21.3, 21.6, 21.9, 22.2, 22.5, 22.8, 23.1, 23.4, 23.7, 24.0, 24.3],
            "format": ".1f", "grid": true, "gridColor": "#a8a8a8", "gridWidth": 1,
            "tickSize": 5, "tickColor": "#888888", "labelFontSize": 9, "labelColor": "#333333", "labelPadding": 2
          }
        },
        "color": {
          "field": "s", "type": "nominal",
          "scale": {"domain": ["Maximum", "Médiane", "Minimum", "documentées )"], "range": ["#808080", "#1a9f80", "#e020e0", "transparent"]},
          "legend": {
            "title": "Données historiques -> Période de référence\u00a0\u00a0de 1986 à 2012\u00a0\u00a0\u00a0( équivalent à 25 années",
            "orient": "none", "legendX": 247, "legendY": 294, "direction": "horizontal",
            "symbolType": "stroke", "symbolStrokeWidth": 3, "symbolSize": 120,
            "strokeColor": "#b0b0b0", "fillColor": "#ffffff", "padding": 3,
            "titleFontSize": 9.5, "titleFontWeight": "normal", "titleColor": "#555555", "titleLimit": 420, "titlePadding": 2,
            "labelFontSize": 9.5, "labelColor": "#555555", "columnPadding": 2, "symbolOffset": 22
          }
        }
      }
    },
    {
      "data": {"name": "box"},
      "mark": {"type": "rect", "fill": {"gradient": "linear", "x1": 0, "y1": 0, "x2": 0, "y2": 1, "stops": [{"offset": 0, "color": "#c4c8f4"}, {"offset": 0.45, "color": "#eef0c8"}, {"offset": 1, "color": "#fcfc90"}]}},
      "encoding": {
        "x": {"field": "d", "type": "temporal", "axis": null},
        "x2": {"field": "d2"},
        "y": {"field": "v2", "type": "quantitative", "axis": null},
        "y2": {"field": "v"},
        "opacity": {
          "datum": "7j", "type": "nominal", "scale": {"range": [1]},
          "legend": {
            "title": "Détail des sept derniers jours", "values": [],
            "orient": "none", "legendX": -1, "legendY": 301,
            "fillColor": "#d9ebf8", "padding": 5,
            "titleFontSize": 9.5, "titleFontWeight": "normal", "titleColor": "#555555", "titleLimit": 200
          }
        }
      }
    },
    {
      "data": {"name": "cur"},
      "mark": {"type": "line", "strokeWidth": 2.5, "strokeJoin": "round"},
      "encoding": {
        "x": {
          "field": "d", "type": "temporal",
          "axis": {
            "orient": "top",
            "values": [
              {"year":2012,"month":9,"date":1,"utc":true},{"year":2012,"month":10,"date":1,"utc":true},{"year":2012,"month":11,"date":1,"utc":true},{"year":2012,"month":12,"date":1,"utc":true},
              {"year":2013,"month":1,"date":1,"utc":true},{"year":2013,"month":2,"date":1,"utc":true},{"year":2013,"month":3,"date":1,"utc":true},{"year":2013,"month":4,"date":1,"utc":true},
              {"year":2013,"month":5,"date":1,"utc":true},{"year":2013,"month":6,"date":1,"utc":true},{"year":2013,"month":7,"date":1,"utc":true},{"year":2013,"month":8,"date":1,"utc":true}
            ],
            "labelExpr": "['janv','févr','mars','avr','mai','juin','juil','août','sept','oct','nov','déc'][utcmonth(datum.value)]",
            "grid": true, "gridColor": "#8a8a8a", "gridWidth": 1,
            "ticks": false, "labelFontSize": 9.5, "labelColor": "#222222", "labelPadding": 3,
            "labelOffset": 26, "labelAlign": "center", "labelFlush": false, "labelOverlap": false, "labelBound": false
          }
        },
        "y": {
          "field": "v", "type": "quantitative",
          "axis": {
            "orient": "right",
            "values": [21.0, 21.3, 21.6, 21.9, 22.2, 22.5, 22.8, 23.1, 23.4, 23.7, 24.0, 24.3],
            "format": ".1f", "grid": false,
            "tickSize": 5, "tickColor": "#888888", "labelFontSize": 9, "labelColor": "#333333", "labelPadding": 2
          }
        },
        "stroke": {
          "datum": "sept 2012 - août 2013", "type": "nominal",
          "scale": {"range": ["#e80000"]},
          "legend": {
            "title": "sept 2012 - août 2013", "labelExpr": "''",
            "orient": "none", "legendX": 137, "legendY": 294,
            "symbolType": "stroke", "symbolStrokeWidth": 3, "symbolSize": 300, "symbolOffset": 26,
            "strokeColor": "#b0b0b0", "fillColor": "#ffffff", "padding": 3,
            "titleFontSize": 9.5, "titleFontWeight": "normal", "titleColor": "#555555", "titlePadding": 2
          }
        }
      }
    }
  ],
  "resolve": {
    "scale": {"color": "independent", "stroke": "independent", "opacity": "independent"},
    "axis": {"x": "independent", "y": "independent"}
  }
}
